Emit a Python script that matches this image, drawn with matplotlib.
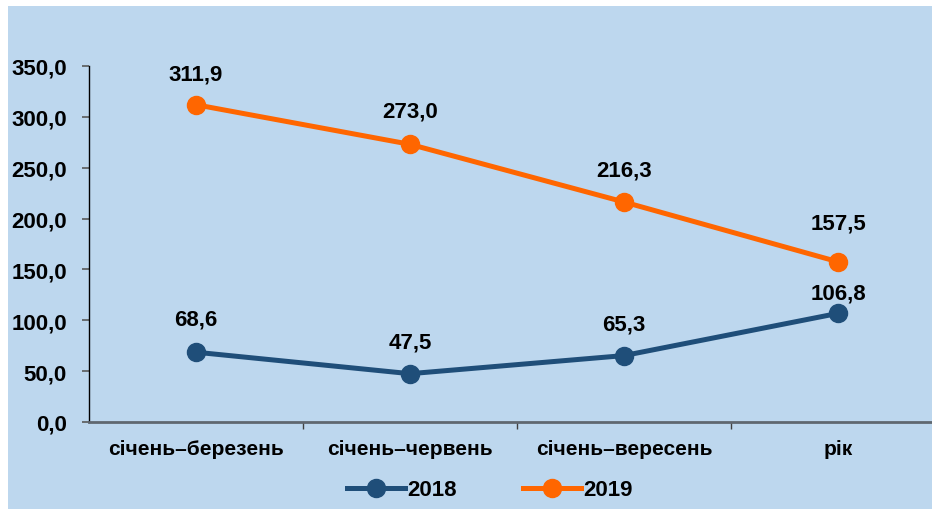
import matplotlib.pyplot as plt
from matplotlib.patches import Rectangle
from matplotlib.ticker import FixedLocator, FuncFormatter

# Дані з графіка
periods = ['січень–березень', 'січень–червень', 'січень–вересень', 'рік']
values_2018 = [68.6, 47.5, 65.3, 106.8]
values_2019 = [311.9, 273.0, 216.3, 157.5]
y_ticks = [0, 50, 100, 150, 200, 250, 300, 350]

# зсув підписів над точками (у пунктах)
off_2018 = [24, 23, 23, 15]
off_2019 = [22, 24, 23, 28]

navy = '#1F4E79'
orange = '#FF6600'
bg = '#BDD7EE'

plt.rcParams['font.family'] = ['Liberation Sans', 'DejaVu Sans']
plt.rcParams['font.weight'] = 'bold'

fig = plt.figure(figsize=(9.32, 5.10), dpi=100)
fig.patches.append(Rectangle((8 / 932, 0), 1, 1 - 7 / 510, transform=fig.transFigure,
                             facecolor=bg, edgecolor='none', zorder=-1))

ax = fig.add_axes([89 / 932, 87 / 510, 856 / 932, 356 / 510])
ax.patch.set_alpha(0)

x = list(range(len(periods)))
ax.plot(x, values_2018, color=navy, lw=3.6, marker='o', ms=13, label='2018', zorder=3)
ax.plot(x, values_2019, color=orange, lw=3.6, marker='o', ms=13, label='2019', zorder=3)

fmt = lambda v: f'{v:.1f}'.replace('.', ',')
for xi, v, o in zip(x, values_2018, off_2018):
    ax.annotate(fmt(v), (xi, v), xytext=(0, o), textcoords='offset points',
                ha='center', va='center', fontsize=16, fontweight='bold')
for xi, v, o in zip(x, values_2019, off_2019):
    ax.annotate(fmt(v), (xi, v), xytext=(0, o), textcoords='offset points',
                ha='center', va='center', fontsize=16, fontweight='bold')

ax.set_xlim(-0.5, len(periods) - 0.5)
ax.set_ylim(0, 350)
ax.set_yticks(y_ticks)
ax.yaxis.set_major_formatter(FuncFormatter(lambda v, p: fmt(v)))
ax.set_xticks(x)
ax.set_xticklabels(periods)
ax.xaxis.set_minor_locator(FixedLocator([0.5, 1.5, 2.5]))
ax.tick_params(axis='x', which='major', length=0, pad=12, labelsize=15)
ax.tick_params(axis='x', which='minor', length=5, width=1, color='#404040')
ax.tick_params(axis='y', length=5, width=1.2, color='#595959', pad=11, labelsize=16)

for s in ['top', 'right']:
    ax.spines[s].set_visible(False)
ax.spines['left'].set_color('black')
ax.spines['left'].set_linewidth(1)
ax.spines['bottom'].set_color('#5F6770')
ax.spines['bottom'].set_linewidth(2)

fig.legend(loc='center', bbox_to_anchor=(490 / 932, 1 - 491 / 510), ncol=2, frameon=False,
           fontsize=16, handlelength=2.6, columnspacing=3, handletextpad=0.1)

fig.savefig('out.png', dpi=100)
